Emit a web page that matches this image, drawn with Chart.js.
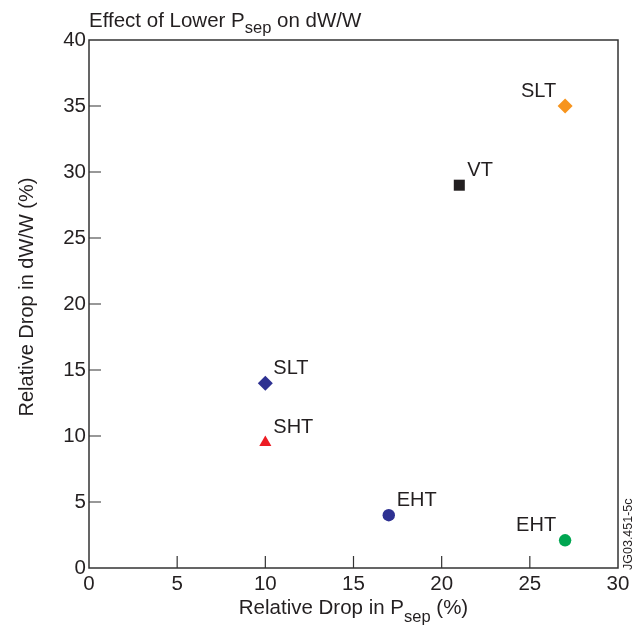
<!DOCTYPE html>
<html lang="en">
<head>
  <meta charset="UTF-8" />
  <title>Effect of Lower Psep on dW/W</title>
  <script src="https://cdn.jsdelivr.net/npm/chart.js"></script>
  <style>
    body { margin: 0; background: #fff; }
    #wrap { width: 641px; height: 628px; }
  </style>
</head>
<body>
  <div id="wrap"><canvas id="psepChart" width="641" height="628"></canvas></div>

  <script>
    // data
    const pointLabels = ['SLT', 'VT', 'SLT', 'SHT', 'EHT', 'EHT'];
    const psepDrop = [27, 21, 10, 10, 17, 27];
    const dwDrop = [35, 29, 14, 9.5, 4, 2.1];
    const xTicks = [0, 5, 10, 15, 20, 25, 30];
    const yTicks = [0, 5, 10, 15, 20, 25, 30, 35, 40];

    // marker styles
    const colors = ['#f7941d', '#231f20', '#2e3192', '#ed1c24', '#2e3192', '#00a651'];
    const shapes = ['rectRot', 'rect', 'rectRot', 'triangle', 'circle', 'circle'];
    const radii = [7.5, 7.8, 7.5, 7, 6.2, 6.2];
    const labelLeft = [true, false, false, false, false, true];

    const FONT = '"Liberation Sans", Arial, Helvetica, sans-serif';
    const INK = '#231f20';

    const datasets = pointLabels.map((lab, i) => ({
      label: lab,
      data: [{ x: psepDrop[i], y: dwDrop[i] }],
      pointStyle: shapes[i],
      pointRadius: radii[i],
      backgroundColor: colors[i],
      borderColor: colors[i],
      borderWidth: 0
    }));

    // draws text with a subscript part: parts = [[text, isSub], ...]
    function drawSub(ctx, parts, x, y, align, drop) {
      const fontFor = p => (p[1] ? 16.5 : 20.5) + 'px ' + FONT;
      const sizes = parts.map(p => {
        ctx.font = fontFor(p);
        return ctx.measureText(p[0]).width;
      });
      const total = sizes.reduce((a, b) => a + b, 0);
      let cx = align === 'center' ? x - total / 2 : x;
      ctx.textAlign = 'left';
      ctx.textBaseline = 'alphabetic';
      parts.forEach((p, i) => {
        ctx.font = fontFor(p);
        ctx.fillText(p[0], cx, p[1] ? y + drop : y);
        cx += sizes[i];
      });
    }

    const decor = {
      id: 'decor',
      afterDraw(chart) {
        const ctx = chart.ctx;
        const a = chart.chartArea;
        const xs = chart.scales.x, ys = chart.scales.y;
        ctx.save();
        ctx.strokeStyle = '#333';
        ctx.lineWidth = 1.5;
        ctx.strokeRect(a.left, a.top, a.right - a.left, a.bottom - a.top);

        // inward tick marks
        ctx.lineWidth = 1.2;
        ctx.beginPath();
        xTicks.slice(1, -1).forEach(v => {
          const px = xs.getPixelForValue(v);
          ctx.moveTo(px, a.bottom);
          ctx.lineTo(px, a.bottom - 12);
        });
        yTicks.slice(1, -1).forEach(v => {
          const py = ys.getPixelForValue(v);
          ctx.moveTo(a.left, py);
          ctx.lineTo(a.left + 12, py);
        });
        ctx.stroke();

        ctx.fillStyle = INK;
        // title
        drawSub(ctx, [['Effect of Lower P', false], ['sep', true], [' on dW/W', false]], a.left, 27, 'left', 6);
        // x axis title
        drawSub(ctx, [['Relative Drop in P', false], ['sep', true], [' (%)', false]], (a.left + a.right) / 2, 614, 'center', 8);

        // y axis title
        ctx.save();
        ctx.translate(33, 297);
        ctx.rotate(-Math.PI / 2);
        ctx.font = '20px ' + FONT;
        ctx.textAlign = 'center';
        ctx.textBaseline = 'alphabetic';
        ctx.fillText('Relative Drop in dW/W (%)', 0, 0);
        ctx.restore();

        // figure code
        ctx.save();
        ctx.translate(632, 570);
        ctx.rotate(-Math.PI / 2);
        ctx.font = '12.5px ' + FONT;
        ctx.textAlign = 'left';
        ctx.fillText('JG03.451-5c', 0, 0);
        ctx.restore();

        // point labels
        ctx.font = '20px ' + FONT;
        ctx.textBaseline = 'middle';
        chart.data.datasets.forEach((ds, i) => {
          const el = chart.getDatasetMeta(i).data[0];
          if (labelLeft[i]) {
            ctx.textAlign = 'right';
            ctx.fillText(ds.label, el.x - 9, el.y - 15);
          } else {
            ctx.textAlign = 'left';
            ctx.fillText(ds.label, el.x + 8, el.y - 15);
          }
        });
        ctx.restore();
      }
    };

    new Chart(document.getElementById('psepChart').getContext('2d'), {
      type: 'scatter',
      data: { datasets: datasets },
      options: {
        responsive: false,
        animation: false,
        layout: { padding: { top: 40, right: 23, left: 0, bottom: 0 } },
        plugins: { legend: { display: false }, tooltip: { enabled: false } },
        scales: {
          x: {
            type: 'linear',
            min: 0, max: 30,
            afterBuildTicks: s => { s.ticks = xTicks.map(v => ({ value: v })); },
            afterFit: s => { s.height = 60; },
            grid: { display: false, drawTicks: false, tickLength: 0 },
            border: { display: false },
            ticks: { color: INK, font: { family: FONT, size: 20.5 }, padding: 4, maxRotation: 0 }
          },
          y: {
            type: 'linear',
            min: 0, max: 40,
            afterBuildTicks: s => { s.ticks = yTicks.map(v => ({ value: v })); },
            afterFit: s => { s.width = 89; },
            grid: { display: false, drawTicks: false, tickLength: 0 },
            border: { display: false },
            ticks: { color: INK, font: { family: FONT, size: 20.5 }, padding: 3 }
          }
        }
      },
      plugins: [decor]
    });
  </script>
</body>
</html>
